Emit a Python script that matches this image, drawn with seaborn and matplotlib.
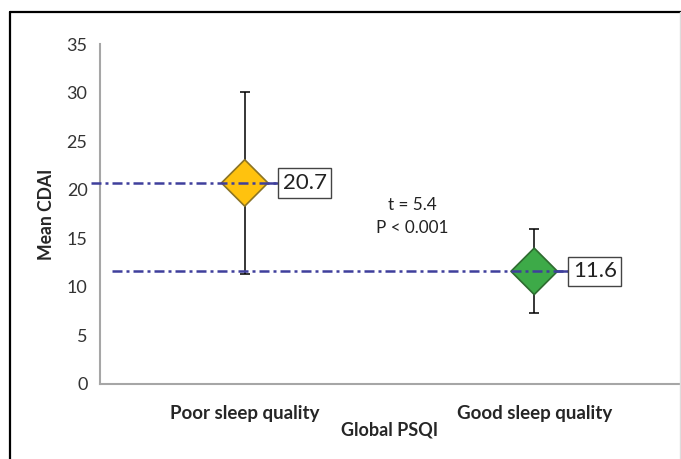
import pandas as pd
import seaborn as sb
import matplotlib.pyplot as plt
from matplotlib.lines import Line2D

# Chart values
groups = ['Poor sleep quality', 'Good sleep quality']
means = [20.7, 11.6]
upper = [30.1, 16.0]
lower = [11.3, 7.3]
mean_labels = ['20.7', '11.6']
y_ticks = [0, 5, 10, 15, 20, 25, 30, 35]
stat_lines = ['t = 5.4', 'P < 0.001']

fill_colors = ['#FFC20E', '#3DAA48']
edge_colors = ['#8C7424', '#2E6B30']
line_blue = '#3F3F9C'
spine_grey = '#A6A6A6'

sb.set_style('white')
plt.rcParams['font.family'] = ['Lato', 'DejaVu Sans']

data = pd.DataFrame({'group': groups, 'pos': range(len(groups)), 'mean': means})

fig = plt.figure(figsize=(6.81, 4.59), dpi=100)
ax = fig.add_axes([0.1468, 0.1634, 0.8502, 0.7407])

# Error bars (asymmetric)
err_low = [m - l for m, l in zip(means, lower)]
err_high = [u - m for m, u in zip(means, upper)]
ax.errorbar(data['pos'], data['mean'], yerr=[err_low, err_high], fmt='none',
            ecolor='black', elinewidth=1.1, capsize=3.5, capthick=1.1, zorder=2)

# Short solid connector from the diamond to the value box
box_x = [0.115, 1.117]
for i, m in enumerate(means):
    ax.plot([i, box_x[i]], [m, m], color=line_blue, lw=1.8, zorder=2)

# Diamonds
sb.scatterplot(data=data, x='pos', y='mean', hue='group', palette=fill_colors,
               marker='D', s=560, legend=False, ax=ax, zorder=3)
for coll in ax.collections[-1:]:
    coll.set_edgecolor(edge_colors)
    coll.set_linewidth(1.2)

# Dash-dot reference lines at each mean
line_start = [-0.53, -0.46]
for i, m in enumerate(means):
    ax.plot([line_start[i], box_x[i]], [m, m], color=line_blue, lw=1.8,
            linestyle=(0, (4.0, 1.6, 1.2, 1.6)), zorder=4, clip_on=False)

# Value boxes
for i, m in enumerate(means):
    ax.annotate(mean_labels[i], xy=(box_x[i], m), xytext=(3.4, 0),
                textcoords='offset points', ha='left', va='center',
                fontsize=16, color='#222222', zorder=5,
                bbox=dict(boxstyle='square,pad=0.21', fc='white', ec='#444444', lw=1.0))

# Statistics text
ax.text(0.578, 18.4, stat_lines[0], ha='center', va='center', fontsize=12.3, color='#222222')
ax.text(0.578, 16.1, stat_lines[1], ha='center', va='center', fontsize=12.3, color='#222222')

# Axes styling
ax.set_xlim(-0.5, 1.5)
ax.set_ylim(0, 35)
ax.set_yticks(y_ticks)
ax.set_xticks(data['pos'])
ax.set_xticklabels(groups, fontweight='bold', fontsize=13.5)
ax.set_xticks([-0.5, 0.5, 1.5], minor=True)
ax.tick_params(axis='x', which='major', length=0, pad=15)
ax.tick_params(axis='x', which='minor', length=5, width=1.2, color=spine_grey, direction='out')
ax.tick_params(axis='y', length=5, width=1.2, color=spine_grey, direction='out',
               labelsize=13, labelcolor='#333333', pad=4)

for side in ['top', 'right']:
    ax.spines[side].set_visible(False)
for side in ['left', 'bottom']:
    ax.spines[side].set_color(spine_grey)
    ax.spines[side].set_linewidth(1.5)

ax.set_xlabel('Global PSQI', fontweight='bold', fontsize=13, labelpad=0)
ax.set_ylabel('Mean CDAI', fontweight='bold', fontsize=12.7, labelpad=8)

# Outer frame of the original figure
fig.add_artist(Line2D([0.0147, 0.0147], [0, 0.974], color='black', lw=1.6,
                      transform=fig.transFigure))
fig.add_artist(Line2D([0.0147, 1.0], [0.974, 0.974], color='black', lw=1.6,
                      transform=fig.transFigure))
fig.add_artist(Line2D([0.998, 0.998], [0, 0.974], color='#DDDDDD', lw=1.0,
                      transform=fig.transFigure))

fig.savefig('out.png', dpi=100)
